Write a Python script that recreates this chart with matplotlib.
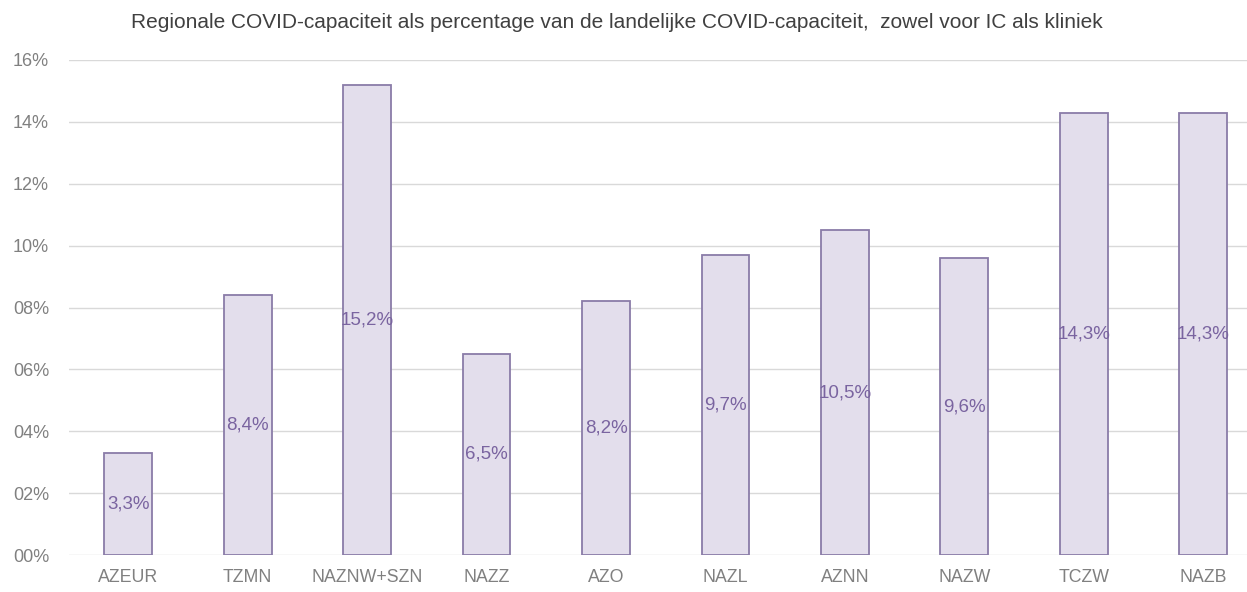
import matplotlib
matplotlib.use("Agg")
import matplotlib.pyplot as plt

categories = ["AZEUR", "TZMN", "NAZNW+SZN", "NAZZ", "AZO", "NAZL", "AZNN", "NAZW", "TCZW", "NAZB"]
values = [3.3, 8.4, 15.2, 6.5, 8.2, 9.7, 10.5, 9.6, 14.3, 14.3]
yticks = [0, 2, 4, 6, 8, 10, 12, 14, 16]
ytick_labels = ["00%", "02%", "04%", "06%", "08%", "10%", "12%", "14%", "16%"]
title = "Regionale COVID-capaciteit als percentage van de landelijke COVID-capaciteit,  zowel voor IC als kliniek"

fig = plt.figure(figsize=(12.47, 5.92), dpi=100)
ax = fig.add_axes([68.5 / 1247, 37 / 592, 1194.5 / 1247, 495 / 592])

x = list(range(len(categories)))
ax.bar(x, values, width=0.40, color="#E3DEEC", edgecolor="#8A7CA8", linewidth=1.3, zorder=3)
for xi, v in zip(x, values):
    ax.text(xi, v / 2, f"{v:.1f}%".replace(".", ","), ha="center", va="center",
            fontsize=13.5, color="#7A64A0", family="Liberation Sans", zorder=4)

ax.set_xlim(-0.5, 9.5)
ax.set_ylim(0, 16)
ax.set_yticks(yticks)
ax.set_yticklabels(ytick_labels)
ax.set_xticks(x)
ax.set_xticklabels(categories)
ax.grid(axis="y", color="#D9D9D9", linewidth=1.0, zorder=0)
for s in ax.spines.values():
    s.set_visible(False)
ax.tick_params(axis="both", length=0, colors="#808080")
ax.tick_params(axis="y", pad=14, labelsize=13)
ax.tick_params(axis="x", pad=10, labelsize=12.8)
for lab in ax.get_xticklabels() + ax.get_yticklabels():
    lab.set_family("Liberation Sans")

fig.text(0.495, 0.962, title, ha="center", va="center", fontsize=15, color="#404040", family="Liberation Sans")

fig.savefig("out.png", dpi=100, facecolor="white")
